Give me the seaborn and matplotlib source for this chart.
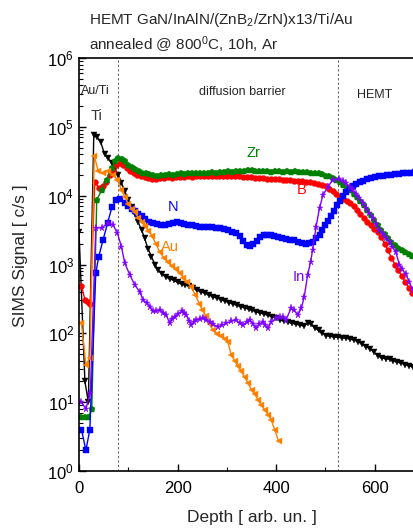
import matplotlib
matplotlib.use("Agg")
import matplotlib.pyplot as plt
import seaborn as sns
from matplotlib.ticker import LogLocator, MultipleLocator, NullFormatter

# ---------------- data ----------------
ti_depth = [0, 12, 19, 30, 37, 44, 52, 59, 66, 73, 80, 86, 93, 100, 107, 113, 120, 127, 133, 140,
            147, 154, 161, 168, 176, 184, 192, 200, 208, 216, 224, 232, 240, 248, 256, 264, 272, 280,
            288, 296, 304, 312, 320, 328, 336, 344, 352, 360, 368, 376, 384, 392, 400, 408, 416, 424,
            432, 440, 448, 456, 464, 470, 478, 486, 494, 502, 510, 518, 526, 534, 542, 550, 558, 566,
            574, 582, 590, 598, 606, 614, 622, 630, 638, 646, 654, 662, 670, 678, 686]
ti_sig = [3000, 20, 10, 76000, 70000, 60000, 40000, 35000, 30000, 24000, 20000, 15500, 11500, 8700,
          6900, 5400, 4100, 3200, 2400, 1700, 1300, 1000, 820, 730, 660, 620, 590, 550, 520, 500, 480,
          450, 420, 400, 380, 360, 340, 325, 310, 295, 280, 268, 255, 245, 235, 225, 215, 205, 197,
          190, 182, 175, 166, 156, 150, 145, 140, 136, 132, 128, 140, 138, 120, 110, 100, 93, 90, 89,
          88, 86, 85, 82, 80, 76, 70, 64, 60, 54, 47, 44, 43, 42, 40, 38, 37, 35, 34, 32, 31]

b_depth = [5, 12, 18, 23, 32, 40, 48, 55, 62, 69, 76, 83, 90, 97, 104, 111, 118, 125, 133, 141, 149,
           157, 165, 173, 181, 189, 197, 205, 213, 221, 229, 237, 245, 253, 261, 269, 277, 285, 293,
           301, 309, 317, 325, 333, 341, 349, 357, 365, 373, 381, 389, 397, 405, 413, 421, 429, 437,
           445, 453, 461, 469, 477, 485, 493, 501, 508, 515, 522, 529, 536, 543, 550, 557, 564, 571,
           578, 585, 592, 599, 606, 613, 620, 627, 634, 641, 648, 655, 662, 669, 676, 683]
b_sig = [480, 310, 290, 270, 16000, 13000, 14000, 16000, 20000, 23000, 28000, 30000, 28000, 25000,
         23000, 21000, 20000, 19000, 18500, 18000, 17500, 17500, 18000, 18000, 18500, 18000, 18500,
         18500, 18500, 19000, 18500, 19000, 19000, 19500, 19000, 19500, 19000, 19500, 19500, 19000,
         19500, 19000, 19000, 18500, 18500, 18500, 18000, 18000, 18000, 17500, 17500, 17500, 17500,
         17000, 17000, 17000, 16500, 16500, 16500, 16000, 16000, 15500, 15000, 14500, 14000, 12500,
         11500, 10500, 9500, 9000, 8500, 7800, 7000, 6200, 5500, 4800, 4200, 3700, 3300, 3000, 2500,
         2000, 1600, 1250, 1000, 820, 680, 560, 460, 380, 310]

zr_depth = [5, 12, 19, 26, 36, 46, 56, 66, 74, 80, 87, 93, 100, 107, 114, 121, 128, 135, 142, 150,
            158, 166, 174, 182, 190, 198, 206, 214, 222, 230, 238, 246, 254, 262, 270, 278, 286, 294,
            302, 310, 318, 326, 334, 342, 350, 358, 366, 374, 382, 390, 398, 406, 414, 422, 430, 438,
            446, 454, 462, 470, 478, 486, 494, 501, 508, 515, 522, 529, 536, 543, 550, 557, 564, 571,
            578, 585, 592, 599, 606, 613, 620, 627, 634, 641, 648, 655, 662, 669, 676, 683]
zr_sig = [6, 6, 6, 8, 8700, 12000, 17000, 25000, 32000, 35000, 34000, 31500, 28000, 26000, 24000,
          22500, 21500, 21000, 20500, 20000, 19500, 20000, 20000, 20500, 20000, 20500, 21000, 20500,
          21000, 21000, 21500, 21000, 21500, 21500, 22000, 21500, 22000, 22000, 22500, 22000, 22500,
          22500, 23000, 23500, 23500, 23000, 22500, 22500, 22500, 22000, 22500, 22500, 22000, 22500,
          22000, 22500, 22000, 22000, 22000, 21500, 21500, 21000, 20500, 19500, 19000, 18000, 17000,
          16000, 14500, 13000, 12000, 10500, 9500, 8300, 7200, 6100, 5200, 4400, 3700, 3200, 2800,
          2400, 2100, 1900, 1750, 1600, 1500, 1420, 1350, 1300]

n_depth = [5, 14, 22, 34, 40, 49, 58, 67, 76, 84, 93, 100, 107, 113, 120, 127, 134, 142, 150, 158,
           166, 174, 182, 190, 198, 206, 214, 222, 230, 238, 246, 254, 262, 270, 278, 286, 294, 302,
           310, 318, 326, 333, 340, 347, 354, 361, 368, 375, 382, 389, 396, 404, 412, 420, 428, 436,
           444, 452, 460, 467, 474, 481, 488, 494, 500, 506, 512, 518, 524, 530, 536, 542, 549, 556,
           563, 570, 577, 585, 593, 601, 609, 617, 625, 633, 641, 649, 657, 665, 673, 681]
n_sig = [4, 2, 4, 750, 1300, 2300, 4000, 6900, 8700, 9000, 7800, 7000, 6500, 5900, 5400, 5000, 4600,
         4200, 4000, 3900, 3800, 3800, 3900, 4000, 4200, 4000, 3900, 3800, 3700, 3600, 3550, 3550,
         3500, 3450, 3400, 3350, 3300, 3200, 3000, 2850, 2600, 2200, 1900, 1850, 2000, 2200, 2500,
         2700, 2700, 2650, 2600, 2500, 2400, 2350, 2300, 2250, 2150, 2050, 2000, 2050, 2150, 2400,
         2700, 3200, 3700, 4300, 5000, 6000, 7200, 8500, 9800, 11200, 12900, 14000, 15000, 15800,
         16500, 17300, 18000, 18500, 19000, 19500, 19800, 20000, 20500, 20800, 21000, 21300, 21500,
         21800]

au_depth = [5, 14, 22, 31, 39, 49, 59, 69, 78, 86, 93, 100, 107, 113, 120, 127, 134, 141, 148, 156,
            164, 172, 180, 188, 196, 204, 212, 220, 228, 236, 244, 250, 257, 265, 272, 280, 288, 296,
            302, 309, 316, 322, 329, 336, 343, 350, 357, 363, 370, 377, 384, 390, 397, 405]
au_sig = [140, 35, 44, 38000, 22500, 21300, 22500, 20000, 17000, 12000, 9700, 7500, 6500, 5800, 4800,
          4200, 3600, 3100, 2600, 2000, 1500, 1250, 1100, 950, 850, 750, 640, 560, 470, 360, 270, 220,
          180, 135, 110, 98, 90, 84, 75, 48, 40, 33, 28, 23, 19, 15, 13, 10.7, 9, 7.7, 6.5, 5.5, 4, 2.7]

in_depth = [5, 14, 23, 34, 46, 59, 69, 78, 86, 93, 103, 113, 123, 130, 137, 144, 150, 157, 164, 171,
            177, 184, 189, 194, 201, 208, 213, 218, 223, 228, 233, 238, 245, 252, 258, 265, 272, 282,
            290, 299, 309, 319, 326, 333, 340, 346, 353, 360, 366, 373, 378, 383, 390, 400, 407, 414,
            420, 430, 437, 444, 451, 457, 464, 470, 474, 481, 488, 495, 505, 515, 528, 535, 542, 549,
            555, 562, 569, 576, 582, 589, 596, 603, 609, 616, 623, 630, 636, 643, 650, 656, 663, 670,
            677]
in_sig = [10, 8, 13.5, 3400, 3400, 4000, 3760, 2850, 1820, 1040, 710, 505, 405, 305, 275, 240, 208,
          210, 219, 200, 185, 140, 160, 175, 190, 208, 195, 185, 150, 133, 145, 156, 160, 166, 158,
          148, 135, 125, 130, 140, 150, 156, 140, 133, 145, 156, 135, 118, 135, 148, 130, 118, 145,
          166, 170, 175, 156, 230, 215, 185, 230, 340, 710, 1100, 1620, 3550, 6600, 10200, 13500,
          17000, 17400, 16500, 15100, 13500, 12000, 10500, 9100, 7800, 6600, 5600, 4700, 3900, 3170,
          2800, 2400, 2100, 1820, 1500, 1000, 850, 720, 560, 420]

series = [
    ("Ti", ti_depth, ti_sig, "#000000", "v", 4.4),
    ("B", b_depth, b_sig, "#ff0000", "o", 4.2),
    ("Zr", zr_depth, zr_sig, "#008000", "p", 4.6),
    ("N", n_depth, n_sig, "#0000ff", "s", 4.2),
    ("Au", au_depth, au_sig, "#ff8000", "<", 4.6),
    ("In", in_depth, in_sig, "#8000ff", "*", 5.2),
]

# labels placed next to curves (depth, signal)
curve_labels = [
    ("Ti", 36, 1.45e5, "#333333"),
    ("Zr", 353, 4.15e4, "#008000"),
    ("B", 452, 1.2e4, "#ff0000"),
    ("N", 190, 6.9e3, "#0000ff"),
    ("Au", 184, 1.82e3, "#ff8000"),
    ("In", 446, 6.6e2, "#8000ff"),
]
region_bounds = [80, 525]

# ---------------- style ----------------
sns.set_style("ticks")
plt.rcParams['font.family'] = ['Liberation Sans', 'DejaVu Sans']
plt.rcParams['mathtext.fontset'] = 'custom'
plt.rcParams['mathtext.rm'] = 'Liberation Sans'
plt.rcParams['mathtext.it'] = 'Liberation Sans:italic'

W, H = 414, 528
fig = plt.figure(figsize=(W / 100, H / 100), dpi=100)
ax = fig.add_axes([79 / W, 57 / H, 345 / W, 413 / H])

for name, d, s, c, m, ms in series:
    sns.lineplot(x=d, y=s, ax=ax, color=c, marker=m, markersize=ms, markeredgewidth=0.3,
                 markeredgecolor=c, linewidth=1.0, estimator=None, sort=False, legend=False)

ax.set_yscale("log")
ax.set_ylim(1, 1e6)
ax.set_xlim(0, 700)

for xb in region_bounds:
    ax.axvline(xb, color="#666666", linestyle=(0, (2, 2)), linewidth=0.8, zorder=0)

for t, x, y, c in curve_labels:
    ax.text(x, y, t, color=c, fontsize=10.5, ha="center", va="center")

# axes styling
ax.xaxis.set_major_locator(MultipleLocator(200))
ax.xaxis.set_minor_locator(MultipleLocator(100))
ax.yaxis.set_major_locator(LogLocator(base=10, numticks=10))
ax.yaxis.set_minor_locator(LogLocator(base=10, subs=range(2, 10), numticks=20))
ax.yaxis.set_minor_formatter(NullFormatter())
ax.tick_params(which="both", direction="in", top=False, right=False, labelsize=12, colors="black")
ax.tick_params(axis="x", which="major", pad=7)
ax.tick_params(which="major", length=5, width=1.0)
ax.tick_params(which="minor", length=3, width=0.8)
for sp in ax.spines.values():
    sp.set_linewidth(1.2)
    sp.set_color("black")

ax.set_xlabel("Depth [ arb. un. ]", fontsize=12.5, labelpad=10)
fig.text(21 / W, 1 - 256 / H, "SIMS Signal [ c/s ]", rotation=90, fontsize=12.5,
         ha="center", va="center")

# header and region annotations
fig.text(89 / W, 1 - 20 / H, "HEMT GaN/InAlN/(ZnB$_2$/ZrN)x13/Ti/Au", fontsize=11, va="center")
fig.text(89 / W, 1 - 45 / H, "annealed @ 800$^0$C, 10h, Ar", fontsize=11, va="center")
fig.text(95 / W, 1 - 91 / H, "Au/Ti", fontsize=9, ha="center", va="center")
fig.text(242 / W, 1 - 92 / H, "diffusion barrier", fontsize=9, ha="center", va="center")
fig.text(375 / W, 1 - 95 / H, "HEMT", fontsize=9, ha="center", va="center")

fig.savefig("out.png", dpi=100)
